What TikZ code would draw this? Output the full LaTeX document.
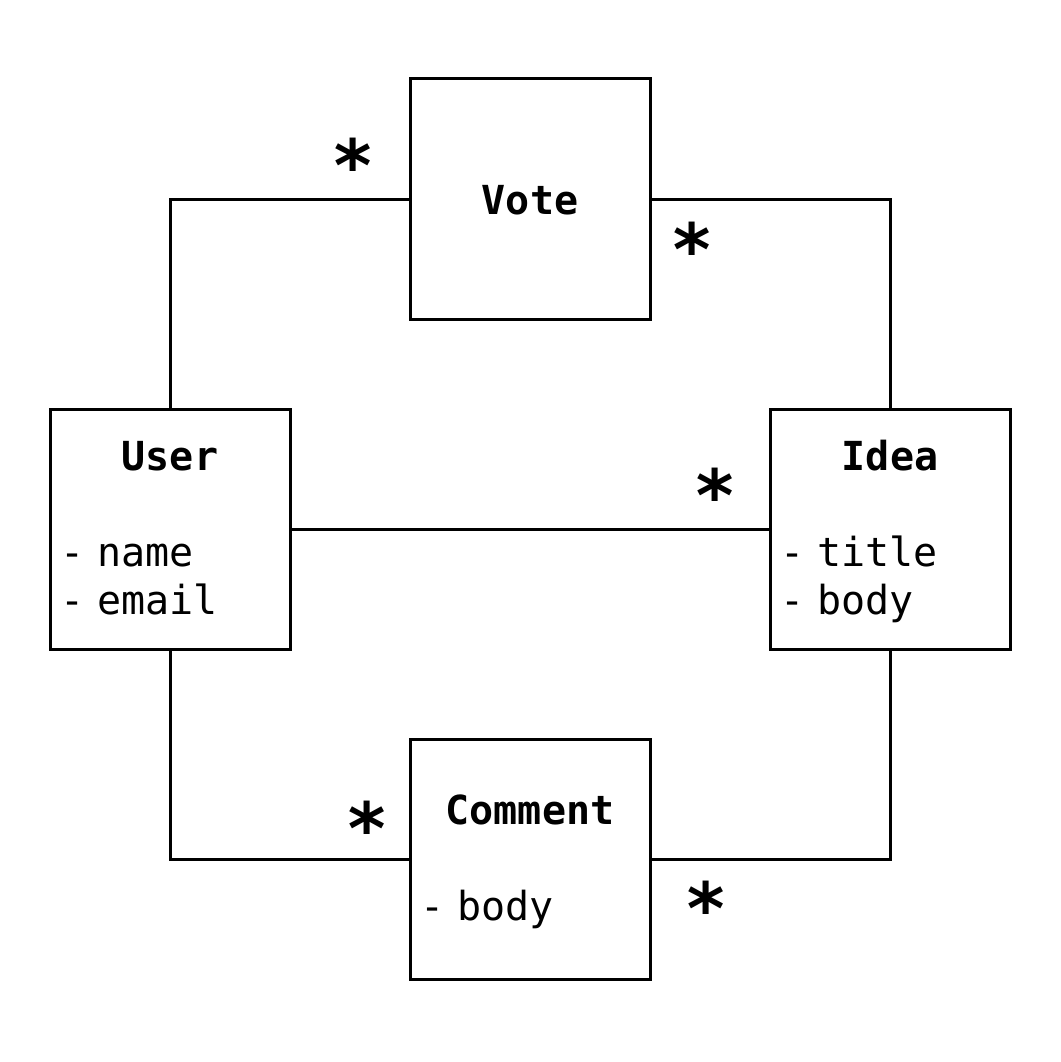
\documentclass[tikz,border=0pt]{standalone}
\usepackage{fontspec}
\usepackage{tikz}
\newfontfamily\umlfont{DejaVu Sans Mono}
\newcommand{\ttl}[1]{\rule[-14.4pt]{0pt}{56pt}\makebox[220pt]{\bfseries #1}}

\begin{document}
\begin{tikzpicture}[x=1pt, y=-1pt, line width=3pt,
    cls/.style={draw, minimum width=240, minimum height=240, text width=220, inner xsep=10, inner ysep=0, align=left, font=\umlfont\fontsize{40}{48}\selectfont},
    mult/.style={font=\umlfont\bfseries\fontsize{72}{72}\selectfont, inner sep=0}]
    \useasboundingbox (0,0) rectangle (1060,1062);

    \node[cls] (vote) at (530, 199) {\rule[-20pt]{0pt}{70pt}\ttl{Vote}};
    \node[cls] (user) at (170, 529) {\ttl{User}\\\strut\\\strut- name\\\strut- email};
    \node[cls] (idea) at (890, 529) {\ttl{Idea}\\\strut\\\strut- title\\\strut- body};
    \node[cls] (comment) at (530, 859) {\ttl{Comment}\\\strut\\\strut- body};

    \draw (user.north) |- (vote.west);
    \draw (vote.east) -| (idea.north);
    \draw (user.east) -- (idea.west);
    \draw (user.south) |- (comment.west);
    \draw (comment.east) -| (idea.south);

    \node[mult] (m1) at (353, 165) {*};
    \node[mult] (m2) at (692, 249) {*};
    \node[mult] (m3) at (715, 495) {*};
    \node[mult] (m4) at (367, 828) {*};
    \node[mult] (m5) at (706, 908) {*};

\end{tikzpicture}
\end{document}
